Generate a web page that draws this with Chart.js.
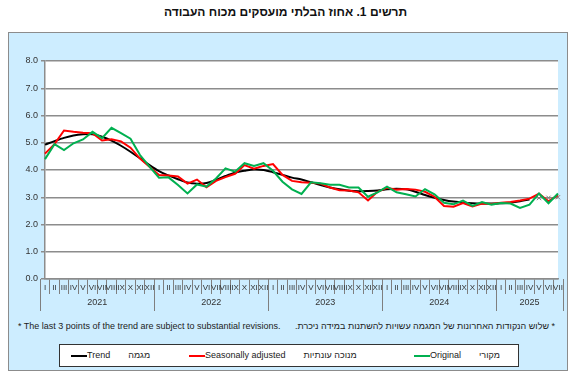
<!DOCTYPE html>
<html>
<head>
<meta charset="utf-8">
<script src="https://cdn.jsdelivr.net/npm/chart.js@4"></script>
<style>
  body { margin: 0; background: #fff; font-family: Arial, "Liberation Sans", sans-serif; }
  #title { position: absolute; left: 0; top: 5px; width: 571px; text-align: center; font-weight: bold; font-size: 12px; direction: rtl; color: #111; }
  #panel { position: absolute; left: 8px; top: 32px; width: 558px; height: 337px; background: #cdedff; border: 1px solid #8c8c8c; }
  #wrap { position: absolute; left: 0; top: 0; width: 558px; height: 283px; }
  .note { position: absolute; top: 288px; font-size: 9px; color: #222; }
  #noteEn { left: 9px; }
  #noteHe { right: 12px; direction: rtl; }
  #legend { position: absolute; left: 50px; top: 311px; width: 458px; height: 21px; background: #fff; border: 1px solid #333; font-size: 9px; color: #222; }
  .item { position: absolute; top: 5px; white-space: nowrap; }
  .item i { display: inline-block; width: 16px; height: 0; border-top: 2px solid; vertical-align: middle; }
  .he { display: inline-block; margin-left: 18px; direction: rtl; }
</style>
</head>
<body>
<div id="title">תרשים 1. אחוז הבלתי מועסקים מכוח העבודה</div>
<div id="panel">
  <div id="wrap"><canvas id="myChart"></canvas></div>
  <div class="note" id="noteEn">* The last 3 points of the trend are subject to substantial revisions.</div>
  <div class="note" id="noteHe">* שלוש הנקודות האחרונות של המגמה עשויות להשתנות במידה ניכרת.</div>
  <div id="legend"></div>
</div>
<script>
const romans = ["I", "II", "III", "IV", "V", "VI", "VII", "VIII", "IX", "X", "XI", "XII"];
const years = [2021, 2022, 2023, 2024, 2025];
const monthsInLastYear = 7;

const trend = [
  4.93, 5.06, 5.18, 5.27, 5.31, 5.31, 5.22, 5.08, 4.89, 4.67, 4.43, 4.18,
  3.96, 3.80, 3.66, 3.54, 3.50, 3.52, 3.64, 3.78, 3.90, 3.97, 4.02, 4.00,
  3.92, 3.82, 3.72, 3.65, 3.55, 3.45, 3.36, 3.29, 3.24, 3.22, 3.23, 3.25,
  3.29, 3.31, 3.29, 3.20, 3.08, 2.98, 2.90, 2.84, 2.80, 2.78, 2.77, 2.77,
  2.78, 2.80, 2.85, 2.92, 2.97, 2.98, 3.00
];
const seasonallyAdjusted = [
  4.60, 4.95, 5.45, 5.40, 5.37, 5.35, 5.08, 5.13, 5.05, 4.82, 4.42, 4.12,
  3.82, 3.80, 3.76, 3.50, 3.65, 3.37, 3.60, 3.74, 3.86, 4.18, 4.05, 4.15,
  4.22, 3.82, 3.60, 3.55, 3.53, 3.50, 3.36, 3.26, 3.25, 3.18, 2.88, 3.20,
  3.35, 3.28, 3.30, 3.28, 3.20, 3.02, 2.68, 2.65, 2.79, 2.66, 2.77, 2.75,
  2.80, 2.83, 2.88, 2.95, 3.13, 2.85, 3.08
];
const original = [
  4.40, 4.95, 4.73, 4.98, 5.12, 5.40, 5.17, 5.55, 5.35, 5.15, 4.55, 4.12,
  3.72, 3.73, 3.45, 3.14, 3.47, 3.39, 3.69, 4.06, 3.94, 4.25, 4.15, 4.25,
  3.97, 3.57, 3.29, 3.12, 3.55, 3.51, 3.46, 3.46, 3.36, 3.36, 3.02, 3.18,
  3.39, 3.18, 3.11, 3.03, 3.30, 3.11, 2.80, 2.74, 2.88, 2.68, 2.82, 2.73,
  2.79, 2.77, 2.61, 2.73, 3.14, 2.78, 3.14
];
const provisionalPoints = 3;

const labels = [];
years.forEach((y, k) => {
  const n = k === years.length - 1 ? monthsInLastYear : 12;
  for (let m = 0; m < n; m++) labels.push(romans[m]);
});

const plotBackground = {
  id: "plotBackground",
  beforeDraw(chart) {
    const a = chart.chartArea, ctx = chart.ctx;
    ctx.save();
    ctx.fillStyle = "#fff";
    ctx.fillRect(a.left, a.top, a.right - a.left, a.bottom - a.top);
    ctx.restore();
  }
};

const yearAxis = {
  id: "yearAxis",
  afterDraw(chart) {
    const x = chart.scales.x, ctx = chart.ctx;
    const half = (x.getPixelForValue(1) - x.getPixelForValue(0)) / 2;
    ctx.save();
    ctx.strokeStyle = "#7f7f7f";
    ctx.lineWidth = 1;
    ctx.fillStyle = "#333";
    ctx.font = "9px Arial";
    ctx.textAlign = "center";
    ctx.textBaseline = "middle";
    let first = 0;
    years.forEach((yr, k) => {
      const n = k === years.length - 1 ? monthsInLastYear : 12;
      const l = x.getPixelForValue(first) - half;
      const r = x.getPixelForValue(first + n - 1) + half;
      [l, r].forEach(px => {
        ctx.beginPath();
        ctx.moveTo(Math.round(px) + 0.5, x.top);
        ctx.lineTo(Math.round(px) + 0.5, x.top + 32);
        ctx.stroke();
      });
      ctx.fillText(String(yr), (l + r) / 2, x.top + 24);
      first += n;
    });
    ctx.restore();
  }
};

const lastIdx = labels.length - provisionalPoints;

const ctx = document.getElementById("myChart").getContext("2d");

const myChart = new Chart(ctx, {
  type: "line",
  data: {
    labels,
    datasets: [
      {
        label: "Trend",
        heLabel: "מגמה",
        data: trend,
        borderColor: "#000",
        backgroundColor: "#000",
        borderWidth: 2,
        tension: 0.3,
        order: 2,
        pointStyle: "crossRot",
        pointRadius: c => (c.dataIndex >= lastIdx ? 3 : 0),
        pointBorderColor: "#7f7f7f",
        pointBorderWidth: 1,
        segment: {
          borderColor: c => (c.p1DataIndex >= lastIdx ? "rgba(0,0,0,0)" : undefined)
        }
      },
      {
        label: "Seasonally adjusted",
        heLabel: "מנוכה עונתיות",
        data: seasonallyAdjusted,
        borderColor: "#ff0000",
        backgroundColor: "#ff0000",
        borderWidth: 2,
        pointRadius: 0,
        order: 1
      },
      {
        label: "Original",
        heLabel: "מקורי",
        data: original,
        borderColor: "#00b050",
        backgroundColor: "#00b050",
        borderWidth: 2,
        pointRadius: 0,
        order: 0
      }
    ]
  },
  options: {
    responsive: true,
    maintainAspectRatio: false,
    animation: false,
    layout: { padding: { top: 28, right: 9, left: 0, bottom: 0 } },
    scales: {
      x: {
        afterFit(scale) { scale.height = 37; },
        grid: {
          offset: true,
          drawOnChartArea: false,
          tickLength: 15,
          color: "#7f7f7f"
        },
        border: { color: "#8c8c8c", width: 1.5 },
        ticks: {
          autoSkip: false,
          maxRotation: 0,
          padding: -11,
          color: "#333",
          font: { family: "Arial", size: 8 }
        }
      },
      y: {
        min: 0,
        max: 8,
        afterFit(scale) { scale.width = 36; },
        ticks: {
          stepSize: 1,
          padding: 3,
          color: "#333",
          font: { family: "Arial", size: 9 },
          callback: v => v.toFixed(1)
        },
        grid: { color: "#8c8c8c", lineWidth: 1.5, tickLength: 4 },
        border: { color: "#8c8c8c", width: 1.5 }
      }
    },
    plugins: {
      legend: { display: false },
      tooltip: { enabled: false }
    }
  },
  plugins: [plotBackground, yearAxis]
});

// html legend built from the datasets
const legendPos = [11, 129, 354];
const legend = document.getElementById("legend");
myChart.data.datasets.forEach((ds, k) => {
  const item = document.createElement("span");
  item.className = "item";
  item.style.left = legendPos[k] + "px";
  item.innerHTML = '<i style="border-color:' + ds.borderColor + '"></i>' + ds.label +
    '<span class="he">' + ds.heLabel + "</span>";
  legend.appendChild(item);
});
</script>
</body>
</html>
